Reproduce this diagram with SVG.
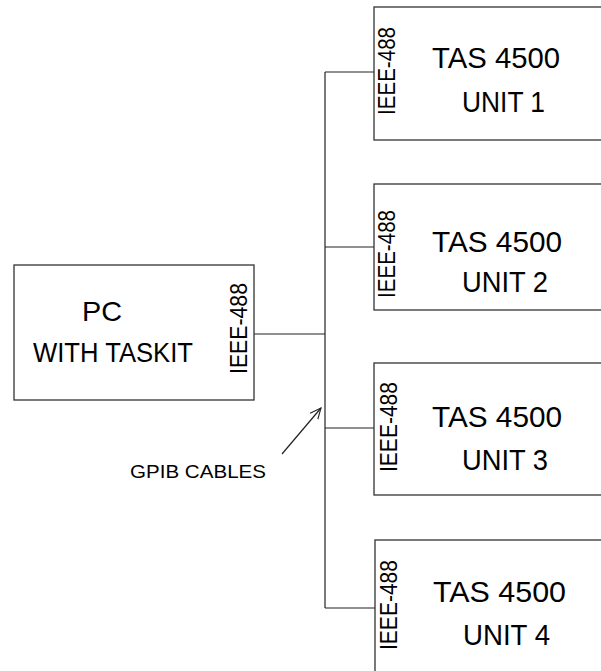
<svg xmlns="http://www.w3.org/2000/svg" width="601" height="671" viewBox="0 0 601 671">
<defs>
<style>
.box{fill:#fff;stroke:#333;stroke-width:1.3}
.ln{fill:none;stroke:#222;stroke-width:1.2}
text{font-family:"Liberation Sans",Arial,sans-serif;fill:#000}
.big{font-size:30px}
.pc{font-size:28px}
.ieee{font-size:23.5px}
.lbl{font-size:18.5px}
</style>
<marker id="arr" viewBox="0 0 12 12" refX="11" refY="6" markerWidth="12" markerHeight="12" markerUnits="userSpaceOnUse" orient="auto">
<path d="M0,1 L11,6 L0,11" fill="none" stroke="#222" stroke-width="1.1"/>
</marker>
</defs>
<rect width="601" height="671" fill="#fff"/>
<g id="connectors">
<line class="ln" x1="254" y1="334" x2="325" y2="334"/>
<line class="ln" x1="325" y1="72" x2="325" y2="608"/>
<line class="ln" x1="325" y1="72" x2="374" y2="72"/>
<line class="ln" x1="325" y1="247" x2="374" y2="247"/>
<line class="ln" x1="325" y1="428" x2="374" y2="428"/>
<line class="ln" x1="325" y1="608" x2="375" y2="608"/>
<line class="ln" x1="282" y1="454" x2="321" y2="408" marker-end="url(#arr)"/>
</g>
<g id="pc">
<rect class="box" x="14" y="265" width="240" height="135"/>
<text class="pc" x="82" y="321" textLength="40" lengthAdjust="spacingAndGlyphs">PC</text>
<text class="pc" x="33" y="362" textLength="160" lengthAdjust="spacingAndGlyphs">WITH TASKIT</text>
<text class="ieee" transform="translate(247,374) rotate(-90)" textLength="91" lengthAdjust="spacingAndGlyphs">IEEE-488</text>
</g>
<g id="unit1">
<rect class="box" x="374" y="7" width="240" height="133"/>
<text class="ieee" transform="translate(395,115) rotate(-90)" textLength="88" lengthAdjust="spacingAndGlyphs">IEEE-488</text>
<text class="big" x="432" y="68" textLength="128" lengthAdjust="spacingAndGlyphs">TAS 4500</text>
<text class="big" x="462" y="112" textLength="83" lengthAdjust="spacingAndGlyphs">UNIT 1</text>
</g>
<g id="unit2">
<rect class="box" x="374" y="184" width="240" height="126"/>
<text class="ieee" transform="translate(395,298) rotate(-90)" textLength="88" lengthAdjust="spacingAndGlyphs">IEEE-488</text>
<text class="big" x="432" y="252" textLength="130" lengthAdjust="spacingAndGlyphs">TAS 4500</text>
<text class="big" x="462" y="292" textLength="86" lengthAdjust="spacingAndGlyphs">UNIT 2</text>
</g>
<g id="unit3">
<rect class="box" x="374" y="363" width="240" height="132"/>
<text class="ieee" transform="translate(397,472) rotate(-90)" textLength="90" lengthAdjust="spacingAndGlyphs">IEEE-488</text>
<text class="big" x="432" y="427" textLength="130" lengthAdjust="spacingAndGlyphs">TAS 4500</text>
<text class="big" x="462" y="470" textLength="86" lengthAdjust="spacingAndGlyphs">UNIT 3</text>
</g>
<g id="unit4">
<rect class="box" x="375" y="540" width="240" height="150"/>
<text class="ieee" transform="translate(397,650) rotate(-90)" textLength="90" lengthAdjust="spacingAndGlyphs">IEEE-488</text>
<text class="big" x="433" y="602" textLength="133" lengthAdjust="spacingAndGlyphs">TAS 4500</text>
<text class="big" x="463" y="645" textLength="87" lengthAdjust="spacingAndGlyphs">UNIT 4</text>
</g>
<g id="label">
<text class="lbl" x="130" y="478" textLength="136" lengthAdjust="spacingAndGlyphs">GPIB CABLES</text>
</g>
</svg>
